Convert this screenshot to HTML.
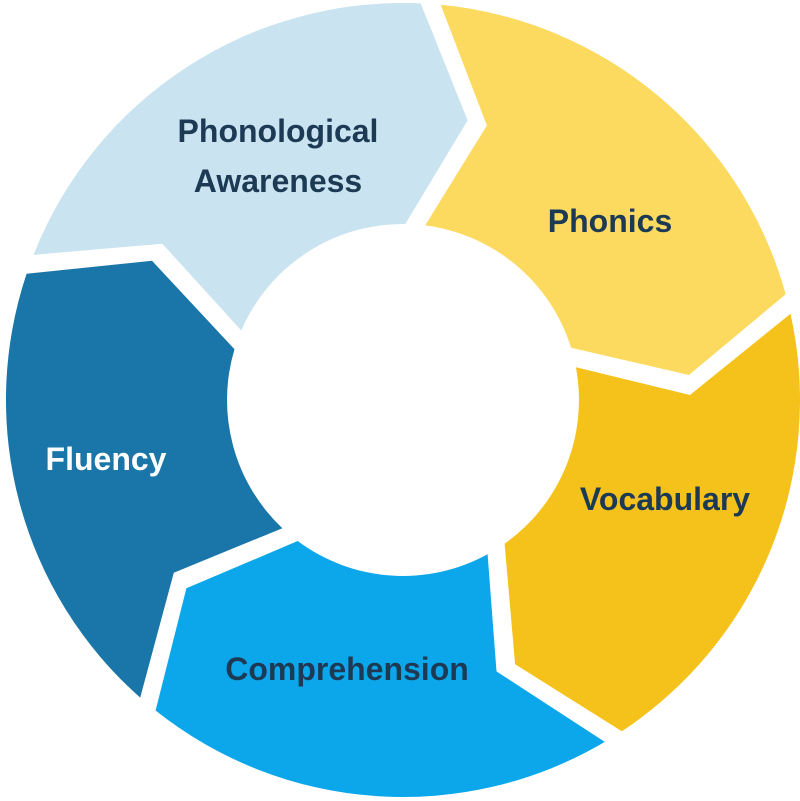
<!DOCTYPE html>
<html><head><meta charset="utf-8">
<style>
html,body{margin:0;padding:0;background:#fff;}
svg{display:block;}
text{font-family:"Liberation Sans",sans-serif;font-weight:bold;font-size:32px;text-anchor:middle;}
</style></head>
<body>
<svg id="s" width="800" height="801" viewBox="0 0 800 801" xmlns="http://www.w3.org/2000/svg">
<g id="g"></g>
<text x="278" y="142" fill="#1d3a55">Phonological</text>
<text x="278" y="192" fill="#1d3a55">Awareness</text>
<text x="610" y="232" fill="#1d3a55">Phonics</text>
<text x="665" y="510" fill="#1d3a55">Vocabulary</text>
<text x="347" y="680" fill="#1d3a55">Comprehension</text>
<text x="106" y="470" fill="#fff">Fluency</text>
</svg>
<script>
var cx=403,cy=400,ro=397,ri=176,rm=287,tip=11;
var b=[290,364,76,148,220,290];
var cols=["#c9e3f0","#fbda5f","#f5c21b","#0ba7ea","#1a76a8"];
function P(a,r){var t=a*Math.PI/180;return (cx+r*Math.sin(t)).toFixed(1)+","+(cy-r*Math.cos(t)).toFixed(1);}
function g(r){return 10/r*180/Math.PI;}
var html="";
for(var k=0;k<5;k++){
 var a1=b[k],a2=b[k+1];
 if(k==1){a1=4;}
 var d="M"+P(a1+g(ro),ro)+" A"+ro+","+ro+" 0 0 1 "+P(a2-g(ro),ro)+
 " L"+P(a2+tip-g(rm),rm)+" L"+P(a2-g(ri),ri)+
 " A"+ri+","+ri+" 0 0 0 "+P(a1+g(ri),ri)+
 " L"+P(a1+tip+g(rm),rm)+" Z";
 html+='<path d="'+d+'" fill="'+cols[k]+'"/>';
}
document.getElementById("g").innerHTML=html;
</script>
</body></html>
